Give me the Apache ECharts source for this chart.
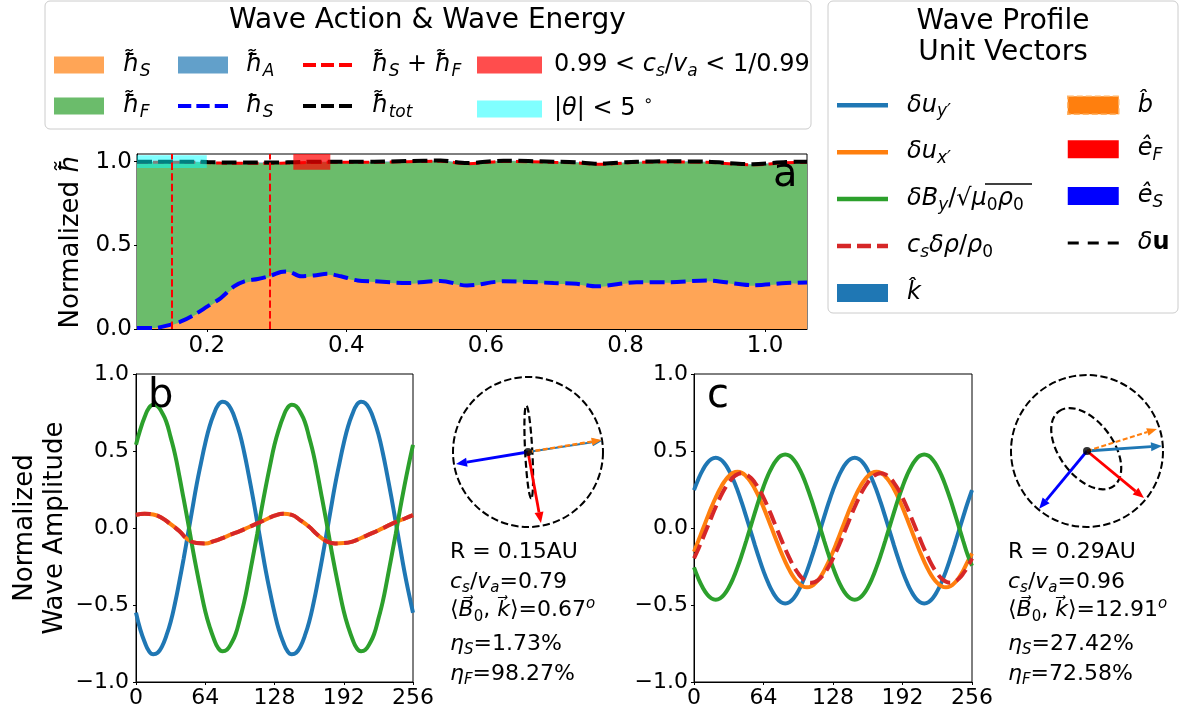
<!DOCTYPE html>
<html><head><meta charset="utf-8">
<script src="https://cdn.jsdelivr.net/npm/echarts@6/dist/echarts.min.js"></script>
<style>html,body{margin:0;padding:0;background:#fff}#c{width:1182px;height:715px}</style>
</head><body><div id="c"></div>
<script>
// ---------------- Panel a : wave action vs heliocentric distance ----------------
const aR      = [0.100,0.125,0.148,0.163,0.182,0.201,0.220,0.239,0.254,0.273,0.292,0.306,0.316,0.335,0.354,0.373,0.392,0.416,0.440,0.487,0.535,0.573,0.625,0.697,0.730,0.759,0.816,0.863,0.916,0.982,1.030,1.060];
const aHSt    = [0.005,0.006,0.022,0.042,0.080,0.130,0.180,0.245,0.275,0.292,0.312,0.336,0.340,0.310,0.316,0.325,0.310,0.287,0.281,0.271,0.283,0.256,0.281,0.271,0.266,0.251,0.276,0.276,0.286,0.258,0.271,0.274];
const aHS     = [0.006,0.006,0.026,0.045,0.085,0.135,0.185,0.255,0.285,0.299,0.319,0.341,0.344,0.315,0.320,0.330,0.315,0.290,0.285,0.275,0.287,0.260,0.285,0.275,0.270,0.255,0.280,0.280,0.290,0.262,0.275,0.278];
const aHSF    = [0.996,0.996,0.996,0.996,0.996,0.994,0.992,0.991,0.991,0.991,0.991,0.991,0.992,0.994,0.996,0.996,0.996,0.996,0.996,1.000,1.003,0.988,1.002,0.996,0.993,0.984,0.996,0.998,0.996,0.981,0.994,0.996];
const aHTot   = [1.000,1.000,1.000,1.000,1.000,0.998,0.996,0.995,0.995,0.995,0.995,0.995,0.996,0.998,1.000,1.000,1.000,1.000,1.000,1.004,1.007,0.992,1.006,1.000,0.997,0.988,1.000,1.002,1.000,0.985,0.998,1.000];
const aRLines = [0.148, 0.292];
const aBandCsX = [0.324, 0.377];
const aBandCsY = [0.952, 1.046];
const aBandThX = [0.100, 0.200];
const aBandThY = [0.962, 1.038];
const aXTicks = [0.2, 0.4, 0.6, 0.8, 1.0];
const aYTicks = [0, 0.5, 1.0];

// ---------------- Panels b, c : wave profiles ----------------
const phase4 = [0,4,8,12,16,20,24,28,32,36,40,44,48,52,56,60,64,68,72,76,80,84,88,92,96,100,104,108,112,116,120,124,128,132,136,140,144,148,152,156,160,164,168,172,176,180,184,188,192,196,200,204,208,212,216,220,224,228,232,236,240,244,248,252,256];
const phase8 = [0,8,16,24,32,40,48,56,64,72,80,88,96,104,112,120,128,136,144,152,160,168,176,184,192,200,208,216,224,232,240,248,256];
const bUy  = [-0.55,-0.66,-0.74,-0.80,-0.82,-0.81,-0.77,-0.70,-0.61,-0.49,-0.35,-0.20,-0.04,0.12,0.28,0.42,0.55,0.66,0.74,0.80,0.82,0.81,0.77,0.70,0.61,0.49,0.35,0.20,0.04,-0.12,-0.28,-0.42,
              -0.55,-0.66,-0.74,-0.80,-0.82,-0.81,-0.77,-0.70,-0.61,-0.49,-0.35,-0.20,-0.04,0.12,0.28,0.42,0.55,0.66,0.74,0.80,0.82,0.81,0.77,0.70,0.61,0.49,0.35,0.20,0.04,-0.12,-0.28,-0.42,-0.55];
const bBy  = [0.54,0.64,0.72,0.78,0.80,0.79,0.75,0.69,0.59,0.48,0.34,0.19,0.04,-0.12,-0.27,-0.41,-0.54,-0.64,-0.72,-0.78,-0.80,-0.79,-0.75,-0.69,-0.59,-0.48,-0.34,-0.19,-0.04,0.12,0.27,0.41,
              0.54,0.64,0.72,0.78,0.80,0.79,0.75,0.69,0.59,0.48,0.34,0.19,0.04,-0.12,-0.27,-0.41,-0.54,-0.64,-0.72,-0.78,-0.80,-0.79,-0.75,-0.69,-0.59,-0.48,-0.34,-0.19,-0.04,0.12,0.27,0.41,0.54];
const bUx  = [0.085,0.093,0.088,0.065,0.025,-0.020,-0.075,-0.097,-0.100,-0.085,-0.065,-0.042,-0.020,0.005,0.030,0.055,0.080,0.093,0.085,0.050,0.008,-0.045,-0.085,-0.100,-0.098,-0.088,-0.065,-0.040,-0.015,0.012,0.038,0.060,0.083];
const bRho = [0.085,0.093,0.088,0.065,0.025,-0.020,-0.075,-0.097,-0.100,-0.085,-0.065,-0.042,-0.020,0.005,0.030,0.055,0.080,0.093,0.085,0.050,0.008,-0.045,-0.085,-0.100,-0.098,-0.088,-0.065,-0.040,-0.015,0.012,0.038,0.060,0.083];
const cUy  = [0.246,0.317,0.376,0.420,0.447,0.456,0.447,0.420,0.376,0.317,0.246,0.164,0.075,-0.017,-0.109,-0.198,-0.280,-0.351,-0.410,-0.454,-0.481,-0.490,-0.481,-0.454,-0.410,-0.351,-0.280,-0.198,-0.109,-0.017,0.075,0.164,
              0.246,0.317,0.376,0.420,0.447,0.456,0.447,0.420,0.376,0.317,0.246,0.164,0.075,-0.017,-0.109,-0.198,-0.280,-0.351,-0.410,-0.454,-0.481,-0.490,-0.481,-0.454,-0.410,-0.351,-0.280,-0.198,-0.109,-0.017,0.075,0.164,0.246];
const cBy  = [-0.256,-0.328,-0.386,-0.430,-0.457,-0.466,-0.457,-0.430,-0.386,-0.328,-0.256,-0.175,-0.086,0.006,0.098,0.187,0.268,0.340,0.398,0.442,0.469,0.478,0.469,0.442,0.398,0.340,0.268,0.187,0.098,0.006,-0.086,-0.175,
              -0.256,-0.328,-0.386,-0.430,-0.457,-0.466,-0.457,-0.430,-0.386,-0.328,-0.256,-0.175,-0.086,0.006,0.098,0.187,0.268,0.340,0.398,0.442,0.469,0.478,0.469,0.442,0.398,0.340,0.268,0.187,0.098,0.006,-0.086,-0.175,-0.245];
const cUx  = [-0.154,-0.083,-0.010,0.063,0.134,0.198,0.255,0.302,0.336,0.358,0.365,0.358,0.336,0.302,0.255,0.198,0.134,0.063,-0.010,-0.083,-0.154,-0.218,-0.275,-0.322,-0.356,-0.378,-0.385,-0.378,-0.356,-0.322,-0.275,-0.218,
              -0.154,-0.083,-0.010,0.063,0.134,0.198,0.255,0.302,0.336,0.358,0.365,0.358,0.336,0.302,0.255,0.198,0.134,0.063,-0.010,-0.083,-0.154,-0.218,-0.275,-0.322,-0.356,-0.378,-0.385,-0.378,-0.356,-0.322,-0.275,-0.218,-0.165];
const cRho = [-0.197,-0.136,-0.069,0.000,0.069,0.136,0.197,0.251,0.295,0.328,0.348,0.355,0.348,0.328,0.295,0.251,0.197,0.136,0.069,0.000,-0.069,-0.136,-0.197,-0.251,-0.295,-0.328,-0.348,-0.355,-0.348,-0.328,-0.295,-0.251,
              -0.197,-0.136,-0.069,0.000,0.069,0.136,0.197,0.251,0.295,0.328,0.348,0.355,0.348,0.328,0.295,0.251,0.197,0.136,0.069,0.000,-0.069,-0.136,-0.197,-0.251,-0.295,-0.328,-0.348,-0.355,-0.348,-0.328,-0.295,-0.251,-0.197];

// ---------------- Unit vectors (x, y in unit-circle frame) ----------------
const bK  = [0.990, 0.150];
const bB  = [0.982, 0.160];
const bEF = [0.173, -0.947];
const bES = [-0.960, -0.160];
const bEllipse = [0.010, 0.000, 0.620, 0.048, 93];   // cx, cy, semi-major, semi-minor, angle (deg)
const cK  = [0.987, 0.066];
const cB  = [0.920, 0.290];
const cEF = [0.750, -0.620];
const cES = [-0.630, -0.760];
const cEllipse = [-0.010, 0.030, 0.610, 0.355, -53.7];

// ---------------- Annotations ----------------
const bStats = ['0.15', '0.79', '0.67', '1.73', '98.27'];
const cStats = ['0.29', '0.96', '12.91', '27.42', '72.58'];

// =================================================================
const FONT = 'DejaVu Sans';
const C_OR_A = '#ffa556', C_GR_A = '#6bbc6b', C_BL_A = '#62a0ca';
const T_BLUE = '#1f77b4', T_OR = '#ff7f0e', T_GR = '#2ca02c', T_RED = '#d62728';

function richSet(fs) {
  const lh = Math.round(fs * 1.25);
  return {
    r:    {fontSize: fs, fontFamily: FONT, color: '#000', lineHeight: lh},
    i:    {fontSize: fs, fontFamily: FONT, fontStyle: 'italic', color: '#000', lineHeight: lh},
    b:    {fontSize: fs, fontFamily: FONT, fontWeight: 'bold', color: '#000', lineHeight: lh},
    sub:  {fontSize: Math.round(fs * 0.7), fontFamily: FONT, fontStyle: 'italic', color: '#000', lineHeight: Math.round(fs * 0.6), verticalAlign: 'bottom'},
    subr: {fontSize: Math.round(fs * 0.7), fontFamily: FONT, color: '#000', lineHeight: Math.round(fs * 0.6), verticalAlign: 'bottom'},
    sup:  {fontSize: Math.round(fs * 0.65), fontFamily: FONT, color: '#000', lineHeight: Math.round(fs * 0.6), verticalAlign: 'top'},
    supi: {fontSize: Math.round(fs * 0.7), fontFamily: FONT, fontStyle: 'italic', color: '#000', lineHeight: Math.round(fs * 0.6), verticalAlign: 'top'}
  };
}
const R24 = richSet(24), R22 = richSet(22), R26 = richSet(26);

const LBL = {
  hS_t: '{i|ħ̃}{sub|S}',
  hF_t: '{i|ħ̃}{sub|F}',
  hA_t: '{i|ħ̃}{sub|A}',
  hS_d: '{i|ħ}{sub|S}',
  hSF:  '{i|ħ̃}{sub|S}{r| + }{i|ħ̃}{sub|F}',
  hTot: '{i|ħ̃}{sub|tot}',
  bandCs: '{r|0.99 < }{i|c}{sub|s}{r|/}{i|v}{sub|a}{r| < 1/0.99}',
  bandTh: '{r||}{i|θ}{r|| < 5 }{sup|∘}',
  uy:  '{i|δu}{sub|y′}',
  ux:  '{i|δu}{sub|x′}',
  By:  '{i|δB}{sub|y}{r|/√}{i|μ}{subr|0}{i|ρ}{subr|0}',
  rho: '{i|c}{sub|s}{i|δρ}{r|/}{i|ρ}{subr|0}',
  kHat: '{i|k̂}',
  bHat: '{i|b̂}',
  eF: '{i|ê}{sub|F}',
  eS: '{i|ê}{sub|S}',
  du: '{i|δ}{b|u}'
};

// legend handle shapes (filled paths, coloured by the series colour)
const ICON_SOLID = 'path://M0,0h51v4.5h-51z';
const ICON_DASH_R = 'path://M0,0h14v4.5h-14zM20,0h14v4.5h-14zM40,0h11v4.5h-11z';
const ICON_DASH_T = 'path://M0,0h13v4h-13zM18,0h13v4h-13zM36,0h13v4h-13z';
const ICON_DASH_K = 'path://M0,0h11v3h-11zM20,0h11v3h-11zM40,0h11v3h-11z';

const pairs = (xs, ys) => xs.map((x, i) => [x, ys[i]]);
const tickFmt1 = v => (v < 0 ? '\u2212' : '') + Math.abs(v).toFixed(1);

function baseAxisLine() { return {show: true, onZero: false, lineStyle: {color: '#000', width: 1}}; }
function baseTick() { return {show: true, inside: false, length: 3, lineStyle: {color: '#000', width: 1}}; }

const xAxis = [
  {type: 'value', gridIndex: 0, min: 0.1, max: 1.06, splitLine: {show: false}, axisLine: baseAxisLine(),
   axisTick: Object.assign(baseTick(), {customValues: aXTicks}),
   axisLabel: {customValues: aXTicks, formatter: v => v.toFixed(1), fontSize: 23, fontFamily: FONT, color: '#000', margin: 6}},
  {type: 'value', gridIndex: 1, min: 0, max: 256, interval: 64, splitLine: {show: false}, axisLine: baseAxisLine(), axisTick: baseTick(),
   axisLabel: {fontSize: 22, fontFamily: FONT, color: '#000', margin: 5, showMinLabel: true, showMaxLabel: true}},
  {type: 'value', gridIndex: 2, min: 0, max: 256, interval: 64, splitLine: {show: false}, axisLine: baseAxisLine(), axisTick: baseTick(),
   axisLabel: {fontSize: 22, fontFamily: FONT, color: '#000', margin: 5, showMinLabel: true, showMaxLabel: true}},
  {type: 'value', gridIndex: 3, min: -1, max: 1, show: false},
  {type: 'value', gridIndex: 4, min: -1, max: 1, show: false}
];
const yAxis = [
  {type: 'value', gridIndex: 0, min: 0, max: 1.046, splitLine: {show: false}, axisLine: baseAxisLine(),
   axisTick: Object.assign(baseTick(), {customValues: aYTicks}),
   axisLabel: {customValues: aYTicks, formatter: v => v.toFixed(1), fontSize: 23, fontFamily: FONT, color: '#000', margin: 5},
   name: '{r|Normalized }{i|ħ̃}', nameLocation: 'middle', nameGap: 48, nameTextStyle: {rich: R26, fontSize: 26, fontFamily: FONT, color: '#000'}},
  {type: 'value', gridIndex: 1, min: -1, max: 1, interval: 0.5, splitLine: {show: false}, axisLine: baseAxisLine(), axisTick: baseTick(),
   axisLabel: {formatter: tickFmt1, fontSize: 22, fontFamily: FONT, color: '#000', margin: 7},
   name: 'Normalized\nWave Amplitude', nameLocation: 'middle', nameGap: 66,
   nameTextStyle: {fontSize: 26, fontFamily: FONT, color: '#000', lineHeight: 30, align: 'center'}},
  {type: 'value', gridIndex: 2, min: -1, max: 1, interval: 0.5, splitLine: {show: false}, axisLine: baseAxisLine(), axisTick: baseTick(),
   axisLabel: {formatter: tickFmt1, fontSize: 22, fontFamily: FONT, color: '#000', margin: 6}},
  {type: 'value', gridIndex: 3, min: -1, max: 1, show: false},
  {type: 'value', gridIndex: 4, min: -1, max: 1, show: false}
];

const gridBox = {show: true, borderColor: '#000', borderWidth: 1, backgroundColor: 'transparent', containLabel: false, outerBoundsMode: 'none'};
const grid = [
  Object.assign({left: 137, top: 154, width: 670, height: 175}, gridBox),
  Object.assign({left: 136, top: 374, width: 277, height: 308}, gridBox),
  Object.assign({left: 694, top: 374, width: 278, height: 308}, gridBox),
  {left: 453, top: 377, width: 150, height: 150, show: false, containLabel: false, outerBoundsMode: 'none'},
  {left: 1011, top: 375, width: 152, height: 152, show: false, containLabel: false, outerBoundsMode: 'none'}
];

function areaSeries(name, ys, color, z) {
  return {name, type: 'line', xAxisIndex: 0, yAxisIndex: 0, data: pairs(aR, ys), symbol: 'none', smooth: 0.3,
    lineStyle: {width: 0, color}, itemStyle: {color}, areaStyle: {color, opacity: 1}, z, silent: true};
}
function dashLine(name, xi, xs, ys, color, w, dash, z, smooth) {
  return {name, type: 'line', xAxisIndex: xi, yAxisIndex: xi, data: pairs(xs, ys), symbol: 'none', showSymbol: false, smooth,
    lineStyle: {width: w, color, type: dash || 'solid'}, itemStyle: {color}, z, silent: true};
}
function bandSeries(name, xr, yr, legendColor, fillColor) {
  return {name, type: 'line', xAxisIndex: 0, yAxisIndex: 0, data: [], symbol: 'none', itemStyle: {color: legendColor}, lineStyle: {color: legendColor}, z: 8, silent: true,
    markArea: {z: 10, silent: true, itemStyle: {color: fillColor}, label: {show: false},
      data: [[{xAxis: xr[0], yAxis: yr[0]}, {xAxis: xr[1], yAxis: yr[1]}]]}};
}
function arrowRender(color, lw, hl, hw, dash) {
  return function (params, api) {
    const o = api.coord([0, 0]);
    const t = api.coord([api.value(0), api.value(1)]);
    const dx = t[0] - o[0], dy = t[1] - o[1], L = Math.hypot(dx, dy);
    const ux = dx / L, uy = dy / L;
    const bx = t[0] - ux * hl, by = t[1] - uy * hl;
    const st = {stroke: color, lineWidth: lw};
    if (dash) st.lineDash = dash;
    return {type: 'group', children: [
      {type: 'line', shape: {x1: o[0], y1: o[1], x2: bx, y2: by}, style: st},
      {type: 'polygon', shape: {points: [[t[0], t[1]], [bx - uy * hw, by + ux * hw], [bx + uy * hw, by - ux * hw]]}, style: {fill: color}}
    ]};
  };
}
function vecSeries(name, gi, v, color, lw, hl, hw, dash, z) {
  return {name, type: 'custom', xAxisIndex: gi, yAxisIndex: gi, data: [v], itemStyle: {color}, renderItem: arrowRender(color, lw, hl, hw, dash), z, silent: true};
}
function ringSeries(gi) {
  return {name: 'ring' + gi, type: 'custom', xAxisIndex: gi, yAxisIndex: gi, data: [[0, 0, 1]], silent: true, z: 3,
    renderItem: (p, api) => {
      const c = api.coord([api.value(0), api.value(1)]);
      const r = api.size([api.value(2), api.value(2)])[0];
      return {type: 'circle', shape: {cx: c[0], cy: c[1], r}, style: {fill: 'none', stroke: '#000', lineWidth: 2, lineDash: [7.4, 3.2]}};
    }};
}
function ellipseSeries(gi, e) {
  return {name: 'du', type: 'custom', xAxisIndex: gi, yAxisIndex: gi, data: [e], itemStyle: {color: '#000'}, silent: true, z: 4,
    dimensions: ['x', 'y', 'a', 'b', 'ang'], encode: {x: 0, y: 1},
    renderItem: (p, api) => {
      const c = api.coord([api.value(0), api.value(1)]);
      const s = api.size([api.value(2), api.value(3)]);
      return {type: 'ellipse', x: c[0], y: c[1], rotation: api.value(4) * Math.PI / 180,
        shape: {cx: 0, cy: 0, rx: s[0], ry: s[1]}, style: {fill: 'none', stroke: '#000', lineWidth: 2.2, lineDash: [7, 3.5]}};
    }};
}

const DASH4 = [14.8, 6.4];
const series = [
  areaSeries('hA_t', aHTot, C_BL_A, 1),
  areaSeries('hF_t', aHSF, C_GR_A, 2),
  areaSeries('hS_t', aHSt, C_OR_A, 3),
  dashLine('hSF', 0, aR, aHSF, '#ff0000', 3, [11, 4.8], 5, 0.3),
  dashLine('hTot', 0, aR, aHTot, '#000000', 4, DASH4, 6, 0.3),
  dashLine('hS_d', 0, aR, aHS, '#0000ff', 4, DASH4, 6, 0.3),
  bandSeries('bandCs', aBandCsX, aBandCsY, '#ff4d4d', 'rgba(255,0,0,0.7)'),
  bandSeries('bandTh', aBandThX, aBandThY, '#80ffff', 'rgba(0,255,255,0.5)'),
  {name: 'vlines', type: 'line', xAxisIndex: 0, yAxisIndex: 0, data: [], z: 9, silent: true,
   markLine: {z: 12, silent: true, symbol: ['none', 'none'], label: {show: false}, animation: false,
     lineStyle: {color: '#ff0000', width: 2, type: [7.4, 3.2]}, data: aRLines.map(v => ({xAxis: v}))}},

  dashLine('uy', 1, phase4, bUy, T_BLUE, 4, null, 3, 0.5),
  dashLine('ux', 1, phase8, bUx, T_OR, 4, null, 3, 0.5),
  dashLine('By', 1, phase4, bBy, T_GR, 4, null, 3, 0.5),
  dashLine('rho', 1, phase8, bRho, T_RED, 4, DASH4, 4, 0.5),

  dashLine('uy', 2, phase4, cUy, T_BLUE, 4, null, 3, 0.5),
  dashLine('ux', 2, phase4, cUx, T_OR, 4, null, 3, 0.5),
  dashLine('By', 2, phase4, cBy, T_GR, 4, null, 3, 0.5),
  dashLine('rho', 2, phase4, cRho, T_RED, 4, DASH4, 4, 0.5),

  ringSeries(3),
  ellipseSeries(3, bEllipse),
  vecSeries('eS', 3, bES, '#0000ff', 2.8, 11, 4.5, null, 5),
  vecSeries('eF', 3, bEF, '#ff0000', 2.8, 11, 4.5, null, 5),
  vecSeries('kHat', 3, bK, T_BLUE, 2.2, 10, 4, null, 5),
  vecSeries('bHat', 3, bB, T_OR, 2.4, 10, 4, [5, 2.5], 6),
  {name: 'dot3', type: 'scatter', xAxisIndex: 3, yAxisIndex: 3, data: [[0, 0]], symbol: 'circle', symbolSize: 8, itemStyle: {color: '#000'}, z: 7, silent: true},

  ringSeries(4),
  ellipseSeries(4, cEllipse),
  vecSeries('eS', 4, cES, '#0000ff', 2.8, 11, 4.5, null, 5),
  vecSeries('eF', 4, cEF, '#ff0000', 2.8, 11, 4.5, null, 5),
  vecSeries('kHat', 4, cK, T_BLUE, 2.8, 11, 4.5, null, 5),
  vecSeries('bHat', 4, cB, T_OR, 2.0, 10, 4, [5, 2.5], 6),
  {name: 'dot4', type: 'scatter', xAxisIndex: 4, yAxisIndex: 4, data: [[0, 0]], symbol: 'circle', symbolSize: 8, itemStyle: {color: '#000'}, z: 7, silent: true}
];

function legendCol(left, top, gap, iw, ih, pad, data) {
  return {orient: 'vertical', left, top, itemGap: gap, itemWidth: iw, itemHeight: ih, padding: 0, selectedMode: false,
    symbolKeepAspect: true, formatter: n => LBL[n],
    textStyle: {fontSize: 24, fontFamily: FONT, color: '#000', padding: [0, 0, 0, pad], rich: R24}, data};
}
const legend = [
  legendCol(54, 53, 14, 50, 17, 14, [{name: 'hS_t', icon: 'rect'}, {name: 'hF_t', icon: 'rect'}]),
  legendCol(178, 53, 14, 50, 17, 13, [{name: 'hA_t', icon: 'rect'}, {name: 'hS_d', icon: ICON_DASH_T}]),
  legendCol(303, 53, 14, 49, 17, 15, [{name: 'hSF', icon: ICON_DASH_T}, {name: 'hTot', icon: ICON_DASH_T}]),
  legendCol(477, 53, 14, 65, 17, 7, [{name: 'bandCs', icon: 'rect'}, {name: 'bandTh', icon: 'rect'}]),
  legendCol(837, 93.3, 19.9, 51, 18, 14, [{name: 'uy', icon: ICON_SOLID}, {name: 'ux', icon: ICON_SOLID}, {name: 'By', icon: ICON_SOLID},
    {name: 'rho', icon: ICON_DASH_R}, {name: 'kHat', icon: 'rect'}]),
  legendCol(1067, 93.3, 19.9, 51, 18, 14, [
    {name: 'bHat', icon: 'rect', itemStyle: {color: T_OR, borderColor: '#ffb366', borderWidth: 1.5, borderType: 'dashed'}},
    {name: 'eF', icon: 'rect'}, {name: 'eS', icon: 'rect'},
    {name: 'du', icon: ICON_DASH_K}])
];

function statText(x, vals) {
  const ys = [552.5, 582, 610.5, 644, 674];
  const lines = [
    '{r|R = ' + vals[0] + 'AU}',
    '{i|c}{sub|s}{r|/}{i|v}{sub|a}{r|=' + vals[1] + '}',
    '{r|⟨}{i|B⃗}{subr|0}{r|, }{i|k⃗}{r|⟩=' + vals[2] + '}{supi|o}',
    '{i|η}{sub|S}{r|=' + vals[3] + '%}',
    '{i|η}{sub|F}{r|=' + vals[4] + '%}'
  ];
  return lines.map((t, k) => ({type: 'text', x, y: ys[k], z: 100, silent: true,
    style: {text: t, rich: R22, font: '22px "DejaVu Sans"', fill: '#000', align: 'left', verticalAlign: 'middle'}}));
}
const plain = (x, y, t, fs, align) => ({type: 'text', x, y, z: 100, silent: true,
  style: {text: t, font: fs + 'px "DejaVu Sans"', fill: '#000', align: align || 'center', verticalAlign: 'middle'}});

const graphic = {z: 50, elements: [
  {type: 'rect', silent: true, shape: {x: 45, y: 1, width: 766, height: 128, r: 5}, style: {fill: 'none', stroke: '#cccccc', lineWidth: 1}},
  {type: 'rect', silent: true, shape: {x: 828, y: 1, width: 350, height: 312, r: 5}, style: {fill: 'none', stroke: '#cccccc', lineWidth: 1}},
  plain(427.5, 21, 'Wave Action & Wave Energy', 28),
  plain(1003, 22, 'Wave Profile', 28),
  plain(1003, 53, 'Unit Vectors', 28),
  plain(773, 176, 'a', 40, 'left'),
  plain(148, 397, 'b', 40, 'left'),
  plain(707, 397, 'c', 40, 'left'),
  {type: 'line', silent: true, z: 100, shape: {x1: 985, y1: 184, x2: 1032, y2: 184}, style: {stroke: '#000', lineWidth: 1.3}}
].concat(statText(450, bStats), statText(1008, cStats))};

const chart = echarts.init(document.getElementById('c'), null, {renderer: 'canvas', width: 1182, height: 715});
chart.setOption({
  animation: false,
  backgroundColor: '#fff',
  textStyle: {fontFamily: FONT},
  grid, xAxis, yAxis, legend, series, graphic
});
</script>
</body></html>
